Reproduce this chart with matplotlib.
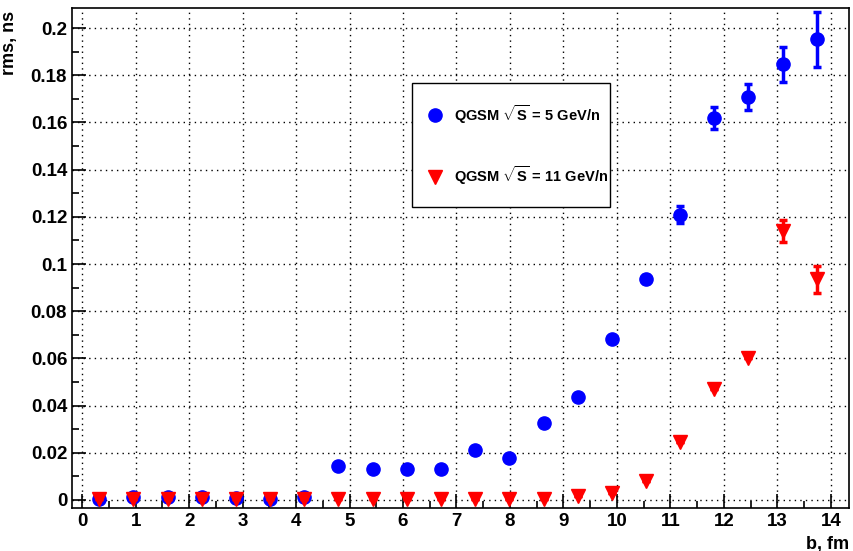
import matplotlib
matplotlib.use("Agg")
import matplotlib.pyplot as plt
from matplotlib.lines import Line2D
from matplotlib.ticker import MultipleLocator

plt.rcParams["font.family"] = ["Liberation Sans", "DejaVu Sans"]
plt.rcParams["font.weight"] = "bold"
plt.rcParams["mathtext.fontset"] = "custom"
plt.rcParams["mathtext.rm"] = "Liberation Sans:bold"
plt.rcParams["mathtext.bf"] = "Liberation Sans:bold"
plt.rcParams["mathtext.it"] = "Liberation Sans:bold"

# impact parameter b, fm
B_FM = [0.32, 0.96, 1.60, 2.24, 2.88, 3.51, 4.15, 4.79, 5.43, 6.07, 6.71, 7.35,
        7.99, 8.63, 9.27, 9.90, 10.54, 11.18, 11.82, 12.46, 13.10, 13.74]

RMS_5 = [0.0005, 0.0012, 0.0012, 0.0012, 0.0007, 0.0005, 0.0012, 0.0145, 0.0132,
         0.0132, 0.0132, 0.0210, 0.0178, 0.0328, 0.0438, 0.0682, 0.0936, 0.1210,
         0.1620, 0.1708, 0.1847, 0.1952]
ERR_5 = [0.0, 0.0, 0.0, 0.0, 0.0, 0.0, 0.0, 0.0, 0.0, 0.0, 0.0, 0.0,
         0.0, 0.0, 0.0, 0.0, 0.0018, 0.0036, 0.0046, 0.0054, 0.0075, 0.0115]

RMS_11 = [0.0003, 0.0003, 0.0003, 0.0003, 0.0003, 0.0003, 0.0003, 0.0003, 0.0003,
          0.0003, 0.0003, 0.0003, 0.0003, 0.0003, 0.0018, 0.0030, 0.0080, 0.0245,
          0.0472, 0.0600, 0.1140, 0.0935]
ERR_11 = [0.0, 0.0, 0.0, 0.0, 0.0, 0.0, 0.0, 0.0, 0.0, 0.0, 0.0, 0.0,
          0.0, 0.0, 0.0, 0.0, 0.0, 0.0, 0.0, 0.0, 0.0048, 0.0058]

LABEL_5 = r"QGSM $\sqrt{\mathbf{S}}$ = 5 GeV/n"
LABEL_11 = r"QGSM $\sqrt{\mathbf{S}}$ = 11 GeV/n"


def main() -> None:
    fig = plt.figure(figsize=(8.54, 5.51), dpi=100)
    ax = fig.add_axes([0.0843, 0.078, 0.9098, 0.9074])

    ax.errorbar(B_FM, RMS_5, yerr=ERR_5, fmt="o", color="#0000ff", markersize=9.5,
                elinewidth=2.5, capsize=3, capthick=2.5, zorder=3)
    ax.errorbar(B_FM, RMS_11, yerr=ERR_11, fmt="v", color="#ff0000", markersize=10,
                elinewidth=2.5, capsize=3, capthick=2.5, zorder=4)

    ax.set_xlim(-0.19, 14.34)
    ax.set_ylim(-0.0034, 0.2085)
    ax.xaxis.set_major_locator(MultipleLocator(1))
    ax.xaxis.set_minor_locator(MultipleLocator(0.5))
    ax.yaxis.set_minor_locator(MultipleLocator(0.01))
    ax.set_yticks([0, 0.02, 0.04, 0.06, 0.08, 0.1, 0.12, 0.14, 0.16, 0.18, 0.2])
    ax.set_yticklabels(["0", "0.02", "0.04", "0.06", "0.08", "0.1", "0.12", "0.14",
                        "0.16", "0.18", "0.2"])
    ax.tick_params(which="both", direction="in", top=False, right=False,
                   labelsize=13.5, width=1.2)
    ax.tick_params(which="major", length=10)
    ax.tick_params(which="minor", length=5)
    for lab in ax.get_xticklabels() + ax.get_yticklabels():
        lab.set_fontweight("bold")
    ax.grid(True, which="major", color="black", linestyle=(0, (1, 3)), linewidth=1.0)
    for spine in ax.spines.values():
        spine.set_linewidth(1.2)

    ax.set_xlabel("b, fm", fontsize=13, fontweight="bold", loc="right")
    ax.set_ylabel("rms, ns", fontsize=13, fontweight="bold", loc="top")
    ax.xaxis.set_label_coords(1.0, -0.055)
    ax.yaxis.set_label_coords(-0.07, 0.995)

    handles = [
        Line2D([], [], linestyle="none", marker="o", color="#0000ff", markersize=9.5),
        Line2D([], [], linestyle="none", marker="v", color="#ff0000", markersize=10),
    ]
    leg = ax.legend(handles, [LABEL_5, LABEL_11], loc="upper left",
                    bbox_to_anchor=(0.4376, 0.61, 0.2546, 0.24), mode="expand",
                    fancybox=False, edgecolor="black", framealpha=1,
                    fontsize=10.5, labelspacing=2.65, borderpad=1.35,
                    handletextpad=1.1, handlelength=0.4, borderaxespad=0)
    leg.get_frame().set_linewidth(1.0)
    for t in leg.get_texts():
        t.set_fontweight("bold")

    fig.savefig("out.png", dpi=100)


if __name__ == "__main__":
    main()
